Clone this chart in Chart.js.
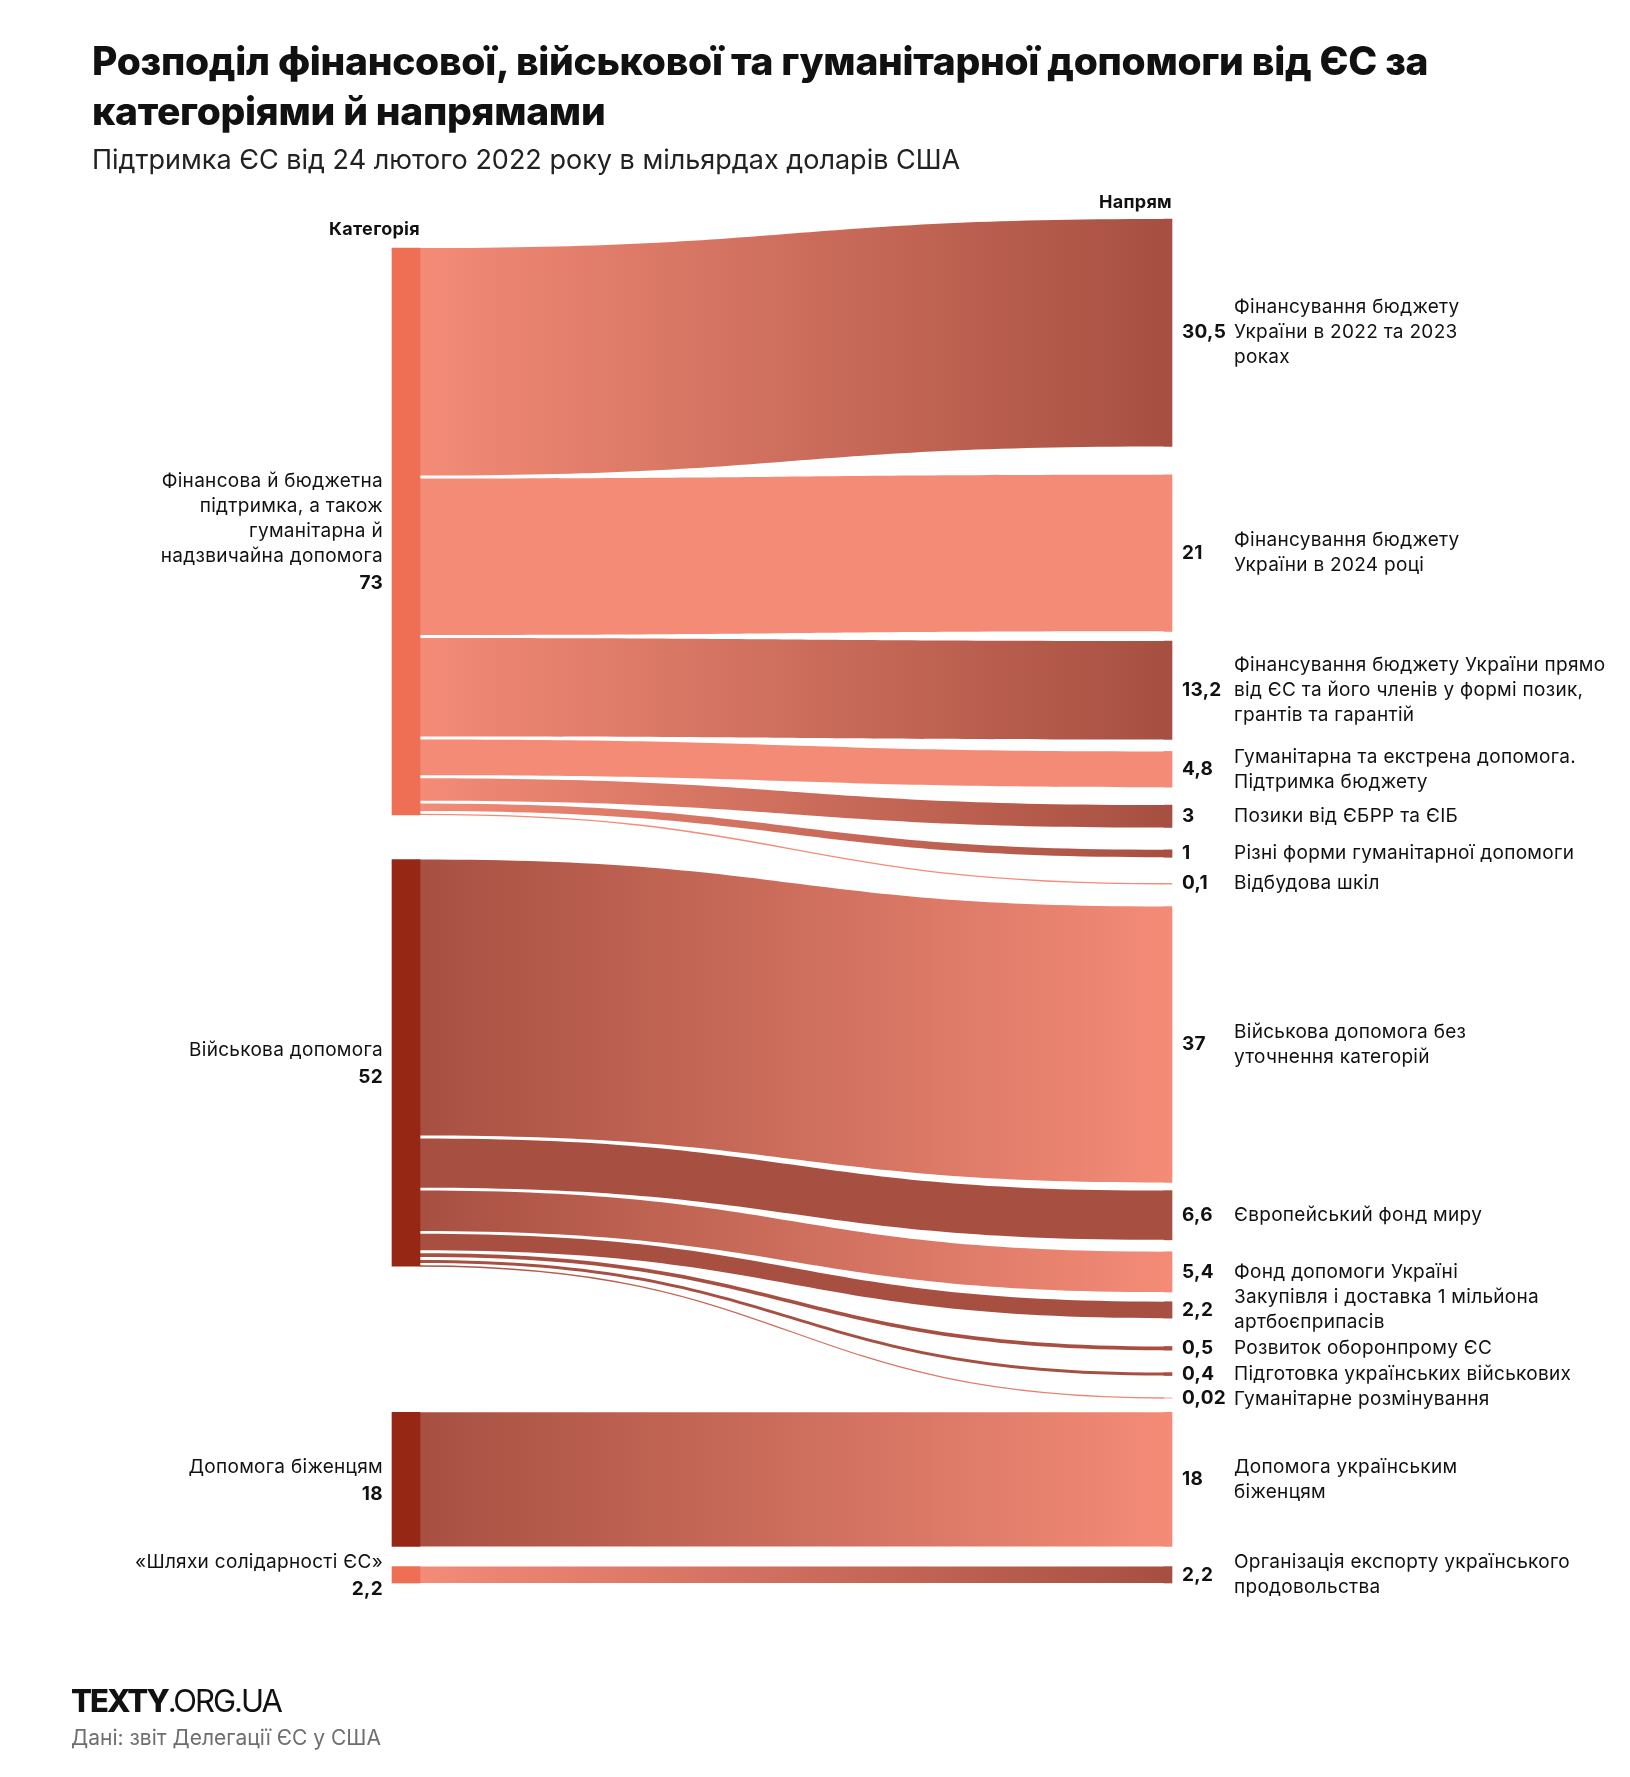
<!DOCTYPE html>
<html lang="uk">
<head>
<meta charset="utf-8">
<title>Розподіл допомоги від ЄС</title>
<script src="https://cdn.jsdelivr.net/npm/chart.js@4.4.1/dist/chart.umd.min.js"></script>
<style>
  body { margin: 0; background: #fff; }
  #wrap { position: relative; width: 1630px; height: 1777px; font-family: Inter, "Noto Sans", sans-serif; color: #111; }
  #chart { position: absolute; left: 0; top: 0; }
  h1 { position: absolute; left: 92px; top: 36px; margin: 0; font-size: 39px; line-height: 50px; font-weight: 800; letter-spacing: -0.3px; }
  .sub { position: absolute; left: 92px; top: 144px; margin: 0; font-size: 27px; line-height: 32px; color: #222; }
  .logo { position: absolute; left: 71px; top: 1681px; font-size: 31px; line-height: 40px; font-weight: 800; letter-spacing: -2px; }
  .logo span { font-weight: 400; }
  .src { position: absolute; left: 71px; top: 1724px; font-size: 21px; line-height: 28px; color: #6e6e6e; }
</style>
</head>
<body>
<div id="wrap">
  <canvas id="chart" width="1630" height="1777"></canvas>
  <h1>Розподіл фінансової, військової та гуманітарної допомоги від ЄС за<br>категоріями й напрямами</h1>
  <p class="sub">Підтримка ЄС від 24 лютого 2022 року в мільярдах доларів США</p>
  <div class="logo">TEXTY<span>.ORG.UA</span></div>
  <div class="src">Дані: звіт Делегації ЄС у США</div>
</div>
<script>
// Categories (left column)
const categoryNames = [
  ["Фінансова й бюджетна", "підтримка, а також", "гуманітарна й", "надзвичайна допомога"],
  ["Військова допомога"],
  ["Допомога біженцям"],
  ["«Шляхи солідарності ЄС»"]
];
const categoryTotals = [73, 52, 18, 2.2];

// Directions (right column), in billions USD
const directionNames = [
  ["Фінансування бюджету", "України в 2022 та 2023", "роках"],
  ["Фінансування бюджету", "України в 2024 році"],
  ["Фінансування бюджету України прямо", "від ЄС та його членів у формі позик,", "грантів та гарантій"],
  ["Гуманітарна та екстрена допомога.", "Підтримка бюджету"],
  ["Позики від ЄБРР та ЄІБ"],
  ["Різні форми гуманітарної допомоги"],
  ["Відбудова шкіл"],
  ["Військова допомога без", "уточнення категорій"],
  ["Європейський фонд миру"],
  ["Фонд допомоги Україні"],
  ["Закупівля і доставка 1 мільйона", "артбоєприпасів"],
  ["Розвиток оборонпрому ЄС"],
  ["Підготовка українських військових"],
  ["Гуманітарне розмінування"],
  ["Допомога українським", "біженцям"],
  ["Організація експорту українського", "продовольства"]
];
const directionValues = [30.5, 21, 13.2, 4.8, 3, 1, 0.1, 37, 6.6, 5.4, 2.2, 0.5, 0.4, 0.02, 18, 2.2];
const directionCategory = [0, 0, 0, 0, 0, 0, 0, 1, 1, 1, 1, 1, 1, 1, 2, 3];

// Colours
const LIGHT = "#f38b77";
const DARK = "#a75042";
const categoryColors = ["#ef6f55", "#962715", "#962715", "#ef6f55"];
const categoryTone = [LIGHT, DARK, DARK, LIGHT];
const directionTone = [DARK, LIGHT, DARK, LIGHT, DARK, DARK, LIGHT, LIGHT, DARK, LIGHT, DARK, DARK, DARK, LIGHT, LIGHT, DARK];

// Spacing between nodes, in the same units as the values
const gapBeforeDirection = [0, 3.8, 1.3, 1.6, 2.4, 3, 3.5, 3, 1.1, 1.6, 1.3, 3.8, 3, 3, 1.9, 2.7];
const gapBeforeCategory = [3.9, 6, 19.6, 2.7];
const FLOW_GAP = 0.4;

const REG = "400 19px Inter, 'Noto Sans', sans-serif";
const BOLD = "700 19px Inter, 'Noto Sans', sans-serif";
const LINE = 25;

function fmt(v) {
  return String(v).replace(".", ",");
}

// Stack the nodes and the flows
let cursor = 0;
const directionSpans = directionValues.map((v, i) => {
  cursor += gapBeforeDirection[i];
  const span = [cursor, cursor + v];
  cursor += v;
  return span;
});
const rightEnd = cursor;

cursor = 0;
const categorySpans = [];
const links = [];
categoryTotals.forEach((_, c) => {
  cursor += gapBeforeCategory[c];
  const start = cursor;
  directionValues.forEach((v, i) => {
    if (directionCategory[i] !== c) return;
    if (cursor > start) cursor += FLOW_GAP;
    links.push({
      source: c, target: i,
      s0: cursor, s1: cursor + v,
      t0: directionSpans[i][0], t1: directionSpans[i][1],
      from: categoryTone[c], to: directionTone[i]
    });
    cursor += v;
  });
  categorySpans.push([start, cursor]);
});
const yMax = Math.max(rightEnd, cursor);

// Flows between the two columns
const flowPlugin = {
  id: "flows",
  beforeDatasetsDraw(chart) {
    const ctx = chart.ctx;
    const y = chart.scales.y;
    const left = chart.getDatasetMeta(0).data;
    const right = chart.getDatasetMeta(1).data;
    links.forEach((l) => {
      const src = left[l.source], dst = right[l.target];
      const x0 = src.x + src.width / 2;
      const x1 = dst.x - dst.width / 2;
      const xm = (x0 + x1) / 2;
      const s0 = y.getPixelForValue(l.s0), s1 = y.getPixelForValue(l.s1);
      const t0 = y.getPixelForValue(l.t0), t1 = y.getPixelForValue(l.t1);
      const grad = ctx.createLinearGradient(x0, 0, x1, 0);
      grad.addColorStop(0, l.from);
      grad.addColorStop(1, l.to);
      ctx.save();
      if (s1 - s0 < 1.6) {
        // very thin flows are drawn as a line
        const a = (s0 + s1) / 2, b = (t0 + t1) / 2;
        ctx.beginPath();
        ctx.moveTo(x0, a);
        ctx.bezierCurveTo(xm, a, xm, b, x1, b);
        ctx.lineWidth = Math.max(s1 - s0, 1.3);
        ctx.strokeStyle = grad;
        ctx.stroke();
      } else {
        ctx.beginPath();
        ctx.moveTo(x0, s0);
        ctx.bezierCurveTo(xm, s0, xm, t0, x1, t0);
        ctx.lineTo(x1, t1);
        ctx.bezierCurveTo(xm, t1, xm, s1, x0, s1);
        ctx.closePath();
        ctx.fillStyle = grad;
        ctx.fill();
      }
      ctx.restore();
    });
  }
};

// Node labels and column headers
const labelPlugin = {
  id: "labels",
  afterDatasetsDraw(chart) {
    const ctx = chart.ctx;
    const left = chart.getDatasetMeta(0).data;
    const right = chart.getDatasetMeta(1).data;
    ctx.save();
    ctx.fillStyle = "#111";
    ctx.textBaseline = "middle";
    ctx.letterSpacing = "0.3px";

    // headers
    ctx.font = "700 18px Inter, 'Noto Sans', sans-serif";
    ctx.textAlign = "right";
    const lt = left[0], rt = right[0];
    ctx.fillText("Категорія", lt.x + lt.width / 2, Math.min(lt.y, lt.base) - 18);
    ctx.fillText("Напрям", rt.x + rt.width / 2, Math.min(rt.y, rt.base) - 16);

    // categories
    left.forEach((bar, c) => {
      const lines = categoryNames[c];
      const cy = (bar.y + bar.base) / 2;
      const x = bar.x - bar.width / 2 - 9;
      let ly = cy - (lines.length * LINE) / 2;
      ctx.font = REG;
      lines.forEach((t) => { ctx.fillText(t, x, ly); ly += LINE; });
      ctx.font = BOLD;
      ctx.fillText(fmt(categoryTotals[c]), x, ly + 2);
    });

    // directions
    ctx.textAlign = "left";
    let prevBottom = -Infinity;
    right.forEach((bar, i) => {
      const cy = (bar.y + bar.base) / 2;
      const xv = bar.x + bar.width / 2 + 10;
      const xt = xv + 52;
      ctx.font = BOLD;
      ctx.fillText(fmt(directionValues[i]), xv, cy);
      const lines = directionNames[i];
      let top = cy - (lines.length * LINE) / 2;
      if (top < prevBottom) top = prevBottom;
      ctx.font = REG;
      lines.forEach((t, k) => ctx.fillText(t, xt, top + LINE / 2 + k * LINE));
      prevBottom = top + lines.length * LINE;
    });
    ctx.restore();
  }
};

new Chart(document.getElementById("chart"), {
  type: "bar",
  data: {
    datasets: [
      {
        label: "Категорія",
        data: categorySpans.map((s) => ({ x: 0, y: s })),
        backgroundColor: categoryColors,
        barThickness: 28,
        grouped: false,
        clip: false,
        borderWidth: 0
      },
      {
        label: "Напрям",
        data: directionSpans.map((s) => ({ x: 1, y: s })),
        backgroundColor: directionTone,
        barThickness: 8,
        grouped: false,
        clip: false,
        borderWidth: 0
      }
    ]
  },
  options: {
    responsive: false,
    animation: false,
    layout: { padding: { left: 406, right: 462, top: 219, bottom: 194 } },
    plugins: {
      legend: { display: false },
      tooltip: { enabled: false },
      title: { display: false }
    },
    scales: {
      x: { type: "linear", min: 0, max: 1, offset: false, display: false },
      y: { type: "linear", min: 0, max: yMax, reverse: true, display: false }
    }
  },
  plugins: [flowPlugin, labelPlugin]
});
</script>
</body>
</html>
